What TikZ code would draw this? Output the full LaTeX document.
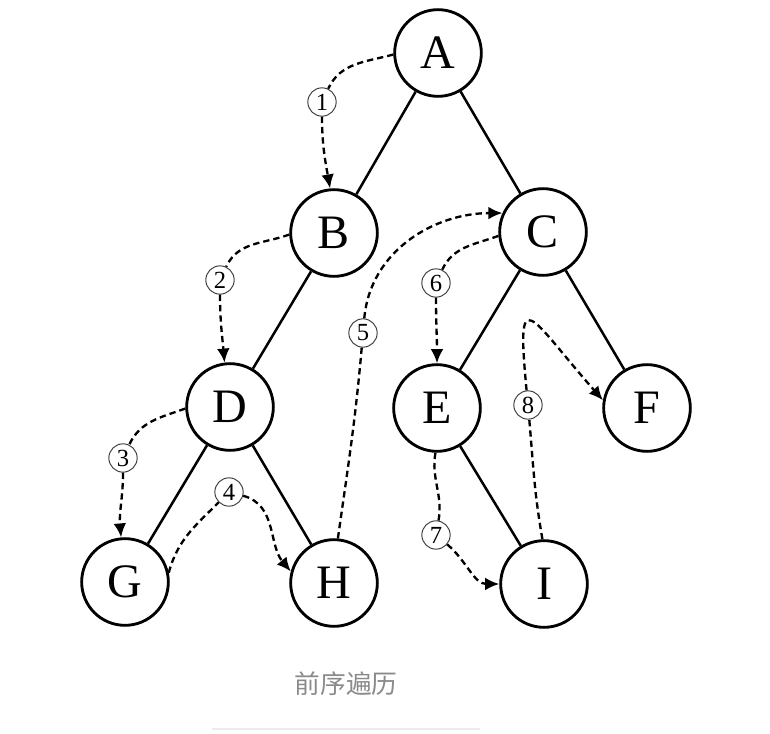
\documentclass[tikz,border=0pt]{standalone}
\usepackage{fontspec}
\setmainfont{Liberation Serif}
\newfontfamily\cjkfont{Noto Sans CJK SC}
\usetikzlibrary{arrows.meta}

\begin{document}
\begin{tikzpicture}[x=0.03cm,y=-0.03cm,
    vertex/.style={circle,draw,line width=0.085cm,minimum size=2.6cm,inner sep=0pt,font=\fontsize{41}{41}\selectfont},
    branch/.style={line width=0.075cm},
    visit/.style={dash pattern=on 1.9mm off 1.2mm,line width=0.07cm,-{Latex[length=4.2mm,width=3.8mm]}},
    stepno/.style={circle,draw,black!75,text=black,line width=0.03cm,minimum size=0.85cm,inner sep=0pt,font=\fontsize{21}{21}\selectfont}]

    \useasboundingbox (0,0) rectangle (770,734);

    % vertices of the tree
    \node[vertex] (A) at (438,53) {A};
    \node[vertex] (B) at (334,233) {B};
    \node[vertex] (C) at (543,232) {C};
    \node[vertex] (D) at (230,407) {D};
    \node[vertex] (E) at (437,408) {E};
    \node[vertex] (F) at (647,408) {F};
    \node[vertex] (G) at (125,582) {G};
    \node[vertex] (H) at (334,583) {H};
    \node[vertex] (I) at (544,584) {I};

    % branches
    \draw[branch] (A) -- (B);
    \draw[branch] (A) -- (C);
    \draw[branch] (B) -- (D);
    \draw[branch] (C) -- (E);
    \draw[branch] (C) -- (F);
    \draw[branch] (D) -- (G);
    \draw[branch] (D) -- (H);
    \draw[branch] (E) -- (I);

    %%%%%%%%%%%%%%%%%%%%%%%%%%%%%%%%%%%%%%%%%%%%%%%%%%%%%%

    % step numbers
    \node[stepno] (s1) at (322,102) {1};
    \node[stepno] (s2) at (220,280) {2};
    \node[stepno] (s3) at (123,458) {3};
    \node[stepno] (s4) at (229,492) {4};
    \node[stepno] (s5) at (363,333) {5};
    \node[stepno] (s6) at (436,283) {6};
    \node[stepno] (s7) at (436,535) {7};
    \node[stepno] (s8) at (528,405) {8};

    % visiting order
    \draw[visit] (A.182) to[out=195,in=65] (s1) (s1) to[out=-90,in=100] (B.95);
    \draw[visit] (B.182) to[out=200,in=65] (s2) (s2) to[out=-90,in=95] (D.97);
    \draw[visit] (D.182) to[out=200,in=65] (s3) (s3) to[out=-90,in=95] (G.95);
    \draw[visit] (G.12) to[out=75,in=-135] (s4) (s4) to[out=-15,in=130] (H.165);
    \draw[visit] (H.85) to[out=82,in=-95] (s5) (s5) to[out=85,in=180] (C.155);
    \draw[visit] (C.185) to[out=200,in=65] (s6) (s6) to[out=-90,in=90] (E.90);
    \draw[visit] (E.-92) to[out=-100,in=80] (s7) (s7) to[out=-40,in=180] (I.180);
    \draw[visit] (I.92) to[out=100,in=-85] (s8) (s8) .. controls (516,280) and (528,315) .. (F.170);

    %%%%%%%%%%%%%%%%%%%%%%%%%%%%%%%%%%%%%%%%%%%%%%%%%%%%%%

    % caption
    \node[text=black!46,font=\cjkfont\fontsize{22}{22}\selectfont] (caption) at (346,684) {前序遍历};
    \draw[line width=0.06cm,black!8] (212,729) -- (480,729);

\end{tikzpicture}
\end{document}
